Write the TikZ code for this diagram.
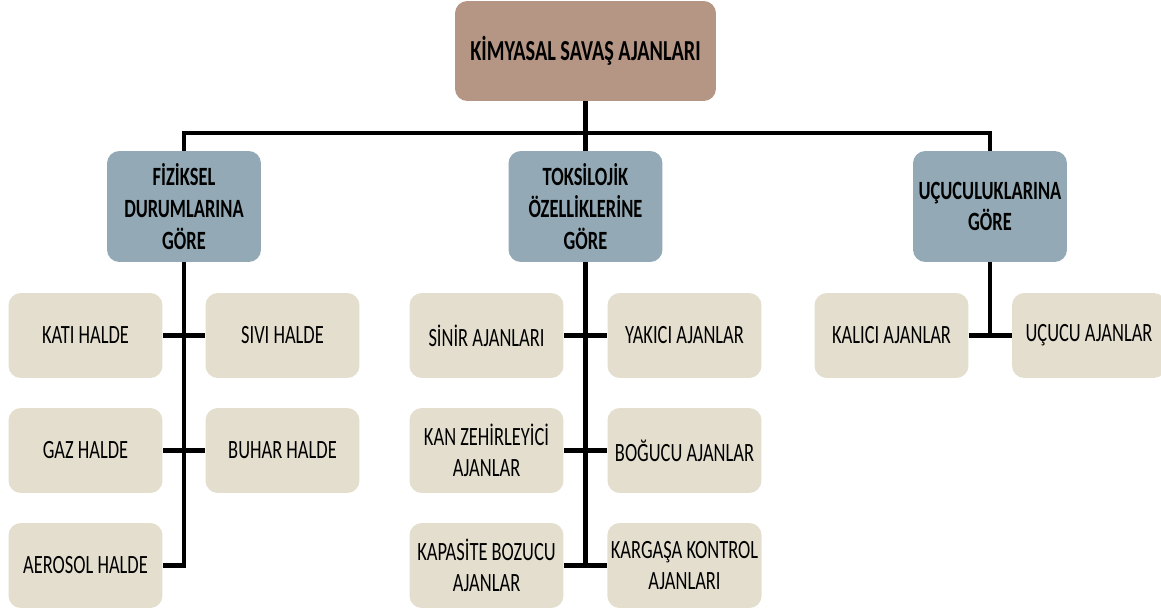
\documentclass[tikz,border=0pt]{standalone}
\usepackage{fontspec}
\setmainfont{Carlito}[FakeStretch=0.7]
\usepackage{tikz}

\definecolor{topfill}{RGB}{181,149,131}
\definecolor{midfill}{RGB}{147,170,182}
\definecolor{leaffill}{RGB}{227,222,206}

\tikzset{
  box/.style={rounded corners=7pt, align=center, inner sep=2pt,
    font=\fontsize{15}{18}\selectfont, text=black},
  topbox/.style={box, fill=topfill, minimum width=5.22cm, minimum height=2cm, font=\fontsize{16.5}{20}\selectfont\bfseries},
  midbox/.style={box, fill=midfill, minimum width=3.08cm, minimum height=2.22cm, font=\fontsize{15}{18}\selectfont\bfseries},
  leaf/.style={box, fill=leaffill, minimum width=3.08cm, minimum height=1.7cm},
  link/.style={draw=black, line width=2.3pt}
}

\begin{document}
\begin{tikzpicture}[x=0.02cm,y=-0.02cm]
\useasboundingbox (0,0) rectangle (1161,609);

\node[topbox] (top) at (585.5,51) {KİMYASAL SAVAŞ AJANLARI};
\coordinate (bus) at (585.5,133);

% fiziksel
\node[midbox] (fiz) at (184,206.5) {FİZİKSEL\\DURUMLARINA\\GÖRE};
\node[leaf] (kati) at (85.5,335.5) {KATI HALDE};
\node[leaf] (sivi) at (282.5,335.5) {SIVI HALDE};
\node[leaf] (gaz) at (85.5,450.5) {GAZ HALDE};
\node[leaf] (buhar) at (282.5,450.5) {BUHAR HALDE};
\node[leaf] (aer) at (85.5,565.5) {AEROSOL HALDE};

% toksilojik
\node[midbox] (tok) at (585.5,206.5) {TOKSİLOJİK\\ÖZELLİKLERİNE\\GÖRE};
\node[leaf] (sinir) at (486.5,335.5) {SİNİR AJANLARI};
\node[leaf] (yakici) at (684.5,335.5) {YAKICI AJANLAR};
\node[leaf] (kan) at (486.5,450.5) {KAN ZEHİRLEYİCİ\\AJANLAR};
\node[leaf] (bogucu) at (684.5,450.5) {BOĞUCU AJANLAR};
\node[leaf] (kap) at (486.5,565.5) {KAPASİTE BOZUCU\\AJANLAR};
\node[leaf] (karg) at (684.5,565.5) {KARGAŞA KONTROL\\AJANLARI};

% ucuculuk
\node[midbox] (ucu) at (990,206.5) {UÇUCULUKLARINA\\GÖRE};
\node[leaf] (kal) at (891.5,335.5) {KALICI AJANLAR};
\node[leaf] (ucucu) at (1089,335.5) {UÇUCU AJANLAR};

% lines
\draw[link] (top.south) -- (bus);
\draw[link] (fiz.north) |- (bus);
\draw[link] (ucu.north) |- (bus);
\draw[link] (tok.north) -- (bus);

\draw[link] (fiz.south) |- (aer.east);
\draw[link] (kati) -- (sivi);
\draw[link] (gaz) -- (buhar);

\draw[link] (tok.south) -- (tok.south |- kap.east);
\draw[link] (sinir) -- (yakici);
\draw[link] (kan) -- (bogucu);
\draw[link] (kap) -- (karg);

\draw[link] (ucu.south) -- (ucu.south |- kal.east);
\draw[link] (kal) -- (ucucu);
\end{tikzpicture}
\end{document}
